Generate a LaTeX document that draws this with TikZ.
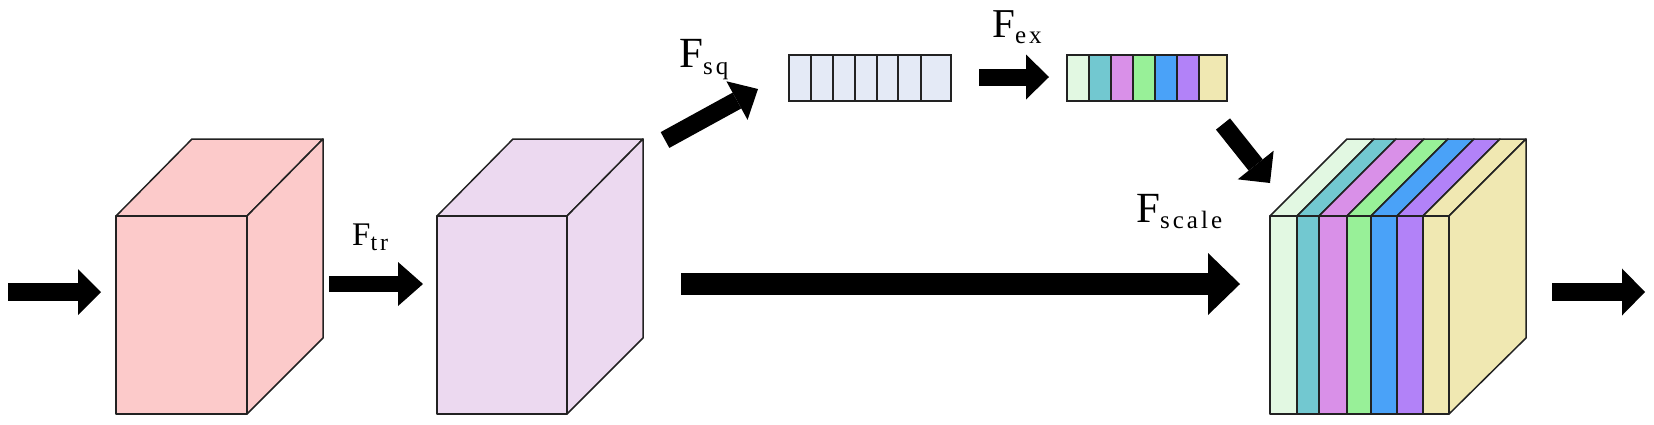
\documentclass[tikz,border=0pt]{standalone}
\usepackage{fontspec}
\setmainfont{Liberation Serif}
\newfontfamily\subserif[LetterSpace=12]{Liberation Serif}
\usetikzlibrary{arrows.meta}
\definecolor{cpink}{HTML}{FCCACA}
\definecolor{clav}{HTML}{ECD9F0}
\definecolor{cpale}{HTML}{E4EAF6}
\definecolor{sa}{HTML}{E2F8E2}
\definecolor{sb}{HTML}{72C8D0}
\definecolor{sc}{HTML}{D990E8}
\definecolor{sd}{HTML}{98F098}
\definecolor{se}{HTML}{4AA2F8}
\definecolor{sf}{HTML}{B282F8}
\definecolor{sg}{HTML}{F0E8B2}
\definecolor{edgecol}{HTML}{222222}
\newcommand{\mycube}[3]{%
  \filldraw[edge, fill=#3] (#1,216) -- (#1+76,139) -- (#2+76,139) -- (#2,216) -- cycle;
  \filldraw[edge, fill=#3] (#2,216) -- (#2+76,139) -- (#2+76,338) -- (#2,414) -- cycle;
  \filldraw[edge, fill=#3] (#1,216) rectangle (#2,414);
}
\begin{document}
\begin{tikzpicture}[x=1pt,y=-1pt,
  edge/.style={draw=edgecol, line width=1.5pt, line join=round},
  cell/.style={draw=edgecol, line width=1.4pt},
  blockarrow/.style n args={3}{draw=black, line width=#1,
     -{Triangle[length=#2,width=#3,line width=0pt]}},
  lab/.style={anchor=base west, inner sep=0pt}]
\useasboundingbox (0,0) rectangle (1654,424);

% cubes
\mycube{116}{247}{cpink}
\mycube{437}{567}{clav}

% squeezed vector
\foreach \a/\b in {789/811, 811/833, 833/855, 855/877, 877/898, 898/921, 921/951}
  \filldraw[cell, fill=cpale] (\a,55) rectangle (\b,101);

% excitation vector
\foreach \a/\b/\c in {1067/1089/sa, 1089/1111/sb, 1111/1133/sc, 1133/1155/sd, 1155/1177/se, 1177/1199/sf, 1199/1227/sg}
  \filldraw[cell, fill=\c] (\a,55) rectangle (\b,101);

% scaled stack
\foreach \a/\b/\c in {1270/1297/sa, 1297/1319/sb, 1319/1347/sc, 1347/1371/sd, 1371/1397/se, 1397/1423/sf, 1423/1449/sg}{
  \filldraw[edge, fill=\c] (\a,216) -- (\a+77,139) -- (\b+77,139) -- (\b,216) -- cycle;
}
\filldraw[edge, fill=sg] (1449,216) -- (1526,139) -- (1526,338) -- (1449,414) -- cycle;
\foreach \a/\b/\c in {1270/1297/sa, 1297/1319/sb, 1319/1347/sc, 1347/1371/sd, 1371/1397/se, 1397/1423/sf, 1423/1449/sg}{
  \filldraw[edge, fill=\c] (\a,216) rectangle (\b,414);
}

% arrow end points
\coordinate (inA) at (8,292);     \coordinate (inB) at (101,292);
\coordinate (trA) at (329,284);   \coordinate (trB) at (423,284);
\coordinate (skA) at (681,284);   \coordinate (skB) at (1240,284);
\coordinate (sqA) at (665,140);   \coordinate (sqB) at (758,89);
\coordinate (exA) at (979,77);    \coordinate (exB) at (1049,77);
\coordinate (dnA) at (1223,124);  \coordinate (dnB) at (1270,183);
\coordinate (outA) at (1552,292); \coordinate (outB) at (1645,292);

\draw[blockarrow={18pt}{23pt}{46pt}] (inA) -- (inB);
\draw[blockarrow={16pt}{25pt}{44pt}] (trA) -- (trB);
\draw[blockarrow={22pt}{32pt}{62pt}] (skA) -- (skB);
\draw[blockarrow={18pt}{24pt}{44pt}] (sqA) -- (sqB);
\draw[blockarrow={17pt}{23pt}{45pt}] (exA) -- (exB);
\draw[blockarrow={18pt}{23pt}{46pt}] (dnA) -- (dnB);
\draw[blockarrow={18pt}{23pt}{47pt}] (outA) -- (outB);

% labels
\node[lab] (ltr) at (352,245) {\fontsize{33}{33}\selectfont F\raisebox{-5pt}{\fontsize{24}{24}\subserif tr}};
\node[lab] (lsq) at (679,67) {\fontsize{43}{43}\selectfont F\raisebox{-7pt}{\fontsize{25}{25}\subserif sq}};
\node[lab] (lex) at (992,37) {\fontsize{41}{41}\selectfont F\raisebox{-6pt}{\fontsize{25}{25}\subserif ex}};
\node[lab] (lsc) at (1136,222) {\fontsize{43}{43}\selectfont F\raisebox{-6pt}{\fontsize{25}{25}\subserif scale}};
\end{tikzpicture}
\end{document}
